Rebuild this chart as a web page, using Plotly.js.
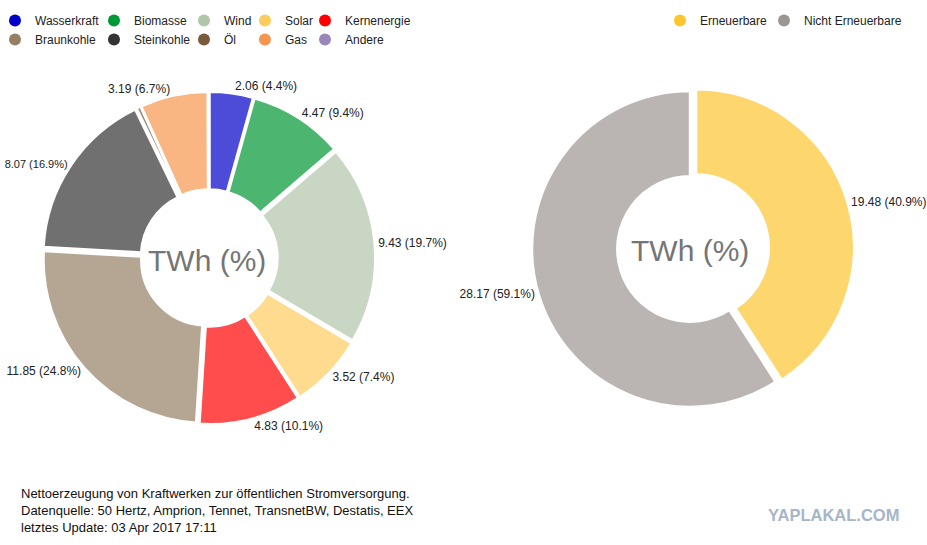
<!DOCTYPE html>
<html>
<head>
<meta charset="utf-8">
<script src="https://cdn.plot.ly/plotly-3.0.1.min.js"></script>
<style>html,body{margin:0;padding:0;background:#fff;}#chart{width:927px;height:545px;}</style>
</head>
<body>
<div id="chart"></div>
<script>
// ---- data ----
const sources = ["Wasserkraft","Biomasse","Wind","Solar","Kernenergie","Braunkohle","Steinkohle","Öl","Gas","Andere"];
const sourceTWh = [2.06, 4.47, 9.43, 3.52, 4.83, 11.85, 8.07, 0.20, 3.19, 0.03];
const sourcePct = [4.4, 9.4, 19.7, 7.4, 10.1, 24.8, 16.9, null, 6.7, null];

const groups = ["Erneuerbare","Nicht Erneuerbare"];
const groupTWh = [19.48, 28.17];
const groupPct = [40.9, 59.1];

const centerLabel = "TWh (%)";
const footnote = ["Nettoerzeugung von Kraftwerken zur öffentlichen Stromversorgung.",
                  "Datenquelle: 50 Hertz, Amprion, Tennet, TransnetBW, Destatis, EEX",
                  "letztes Update: 03 Apr 2017 17:11"];
const watermark = "YAPLAKAL.COM";

// ---- styles ----
const sourceColors = ["#0000c8","#009735","#b0c5aa","#fdcc5e","#ff0000","#957f65","#333333","#7a5a3c","#f6954d","#9a86b8"];
const groupColors = ["#fcc630","#9c9693"];
const sourceLabelSize = [12,12,12,12,12,12,11,12,12,12];
function rgba(hex, a){
  const n = parseInt(hex.slice(1),16);
  return `rgba(${(n>>16)&255},${(n>>8)&255},${n&255},${a})`;
}
function labelText(vals, pcts){
  return vals.map((v,i)=> pcts[i]==null ? "" : `${v.toFixed(2)} (${pcts[i].toFixed(1)}%)`);
}
const W = 927, H = 545;
const font = "Liberation Sans, Arial, sans-serif";

const traces = [];
traces.push({
  type:"pie", labels:sources, values:sourceTWh, sort:false, direction:"clockwise", rotation:0,
  hole:0.4, pull:0.02, text:labelText(sourceTWh, sourcePct), textinfo:"text", textposition:"outside",
  textfont:{size:sourceLabelSize, color:"#222", family:font},
  marker:{colors:sourceColors.map(c=>rgba(c,0.7)), line:{color:"#fff", width:2.5}},
  domain:{x:[42.7/W, 375.3/W], y:[1-424.3/H, 1-91.7/H]},
  showlegend:false, hoverinfo:"label+value+percent"
});
traces.push({
  type:"pie", labels:groups, values:groupTWh, sort:false, direction:"clockwise", rotation:0,
  hole:0.46, pull:[0.04,0], text:labelText(groupTWh, groupPct), textinfo:"text", textposition:"outside",
  textfont:{size:12, color:"#222", family:font},
  marker:{colors:groupColors.map(c=>rgba(c,0.7)), line:{color:"#fff", width:2.5}},
  domain:{x:[525.7/W, 854.3/W], y:[1-413.3/H, 1-84.7/H]},
  showlegend:false, hoverinfo:"label+value+percent"
});

// legend entries: left legend in 5 columns (2 rows), right legend 2 items
const colMarkerX = [17,116,206,267,327];
const layout = {
  width:W, height:H, margin:{l:0,r:0,t:0,b:0,autoexpand:false}, paper_bgcolor:"#fff", plot_bgcolor:"#fff",
  font:{family:font, size:12, color:"#222"},
  xaxis:{visible:false}, yaxis:{visible:false},
  annotations:[], showlegend:true
};
sources.forEach((s,i)=>{
  const col = i%5, lg = col===0 ? "legend" : "legend"+(col+1);
  traces.push({type:"scatter", mode:"markers", x:[null], y:[null], name:s, legend:lg,
    marker:{size:12, color:sourceColors[i], symbol:"circle"}, hoverinfo:"skip"});
});
colMarkerX.forEach((mx,col)=>{
  const key = col===0 ? "legend" : "legend"+(col+1);
  layout[key] = {x:(mx-22)/W, xanchor:"left", y:1-6/H, yanchor:"top", orientation:"v",
    bgcolor:"rgba(0,0,0,0)", font:{size:12, family:font, color:"#222"}, tracegroupgap:0, itemclick:false};
});
const grpMarkerX = [682,786];
groups.forEach((g,i)=>{
  const key = "legend"+(6+i);
  traces.push({type:"scatter", mode:"markers", x:[null], y:[null], name:g, legend:key,
    marker:{size:12, color:groupColors[i], symbol:"circle"}, hoverinfo:"skip"});
  layout[key] = {x:(grpMarkerX[i]-22)/W, xanchor:"left", y:1-6/H, yanchor:"top", orientation:"v",
    bgcolor:"rgba(0,0,0,0)", font:{size:12, family:font, color:"#222"}, itemclick:false};
});

layout.annotations.push(
  {xref:"paper", yref:"paper", x:207/W, y:1-260/H, text:centerLabel, showarrow:false,
   font:{size:30, color:"#757575", family:font}, xanchor:"center", yanchor:"middle"},
  {xref:"paper", yref:"paper", x:690/W, y:1-250/H, text:centerLabel, showarrow:false,
   font:{size:30, color:"#757575", family:font}, xanchor:"center", yanchor:"middle"},
  {xref:"paper", yref:"paper", x:19/W, y:1-484/H, text:footnote.join("<br>"), showarrow:false, align:"left",
   font:{size:13, color:"#111", family:font}, xanchor:"left", yanchor:"top"},
  {xref:"paper", yref:"paper", x:833/W, y:1-515/H, text:"<b>"+watermark+"</b>", showarrow:false,
   font:{size:16.5, color:"#a6b6c8", family:"Liberation Sans Narrow, Arial Narrow, Liberation Sans, sans-serif"},
   xanchor:"center", yanchor:"middle"}
);

Plotly.newPlot("chart", traces, layout, {displayModeBar:false, staticPlot:true});
</script>
</body>
</html>
